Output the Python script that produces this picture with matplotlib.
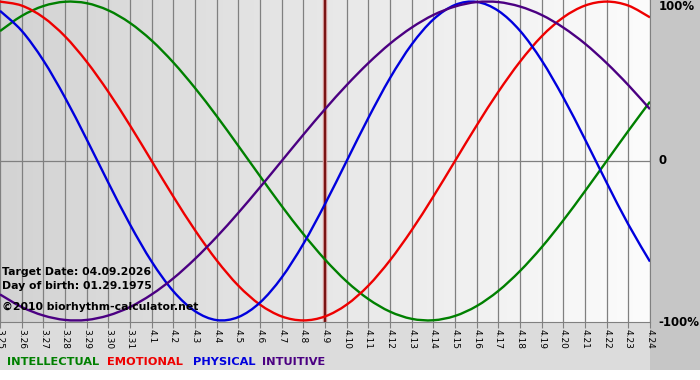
import numpy as np
import matplotlib.pyplot as plt
from matplotlib.colors import LinearSegmentedColormap
from matplotlib.patches import Rectangle, PathPatch
from matplotlib.path import Path

dates = ["3.25", "3.26", "3.27", "3.28", "3.29", "3.30", "3.31",
         "4.1", "4.2", "4.3", "4.4", "4.5", "4.6", "4.7", "4.8", "4.9",
         "4.10", "4.11", "4.12", "4.13", "4.14", "4.15", "4.16", "4.17",
         "4.18", "4.19", "4.20", "4.21", "4.22", "4.23", "4.24"]

physical = [0.942, 0.817, 0.631, 0.398, 0.136, -0.136, -0.398, -0.631, -0.817, -0.942,
            -0.998, -0.979, -0.888, -0.731, -0.520, -0.270, 0.000, 0.270, 0.520, 0.731,
            0.888, 0.979, 0.998, 0.942, 0.817, 0.631, 0.398, 0.136, -0.136, -0.398, -0.631]
emotional = [1.000, 0.975, 0.901, 0.782, 0.623, 0.434, 0.223, 0.000, -0.223, -0.434,
             -0.623, -0.782, -0.901, -0.975, -1.000, -0.975, -0.901, -0.782, -0.623, -0.434,
             -0.223, 0.000, 0.223, 0.434, 0.623, 0.782, 0.901, 0.975, 1.000, 0.975, 0.901]
intellectual = [0.815, 0.910, 0.972, 0.999, 0.990, 0.945, 0.866, 0.756, 0.618, 0.458,
                0.282, 0.095, -0.095, -0.282, -0.458, -0.618, -0.756, -0.866, -0.945, -0.990,
                -0.999, -0.972, -0.910, -0.815, -0.690, -0.541, -0.372, -0.189, 0.000, 0.189, 0.372]
intuitive = [-0.837, -0.916, -0.969, -0.997, -0.997, -0.969, -0.916, -0.837, -0.736, -0.614,
             -0.476, -0.325, -0.165, 0.000, 0.165, 0.325, 0.476, 0.614, 0.736, 0.837,
             0.916, 0.969, 0.997, 0.997, 0.969, 0.916, 0.837, 0.736, 0.614, 0.476, 0.325]

target_date = "4.9"
info_lines = ["Target Date: 04.09.2026", "Day of birth: 01.29.1975",
              "\u00a92010 biorhythm-calculator.net"]

series = [
    ("INTELLECTUAL", intellectual, "#008000"),
    ("EMOTIONAL", emotional, "#ee0000"),
    ("PHYSICAL", physical, "#0000dd"),
    ("INTUITIVE", intuitive, "#4b0082"),
]


def smooth_path(xs, ys):
    # smooth line through the daily points (cubic bezier, catmull-rom tangents)
    xs = np.asarray(xs, float)
    ys = np.asarray(ys, float)
    n = len(xs)
    verts = [(xs[0], ys[0])]
    codes = [Path.MOVETO]
    for i in range(n - 1):
        i0, i3 = max(i - 1, 0), min(i + 2, n - 1)
        c1 = (xs[i] + (xs[i + 1] - xs[i0]) / 6, ys[i] + (ys[i + 1] - ys[i0]) / 6)
        c2 = (xs[i + 1] - (xs[i3] - xs[i]) / 6, ys[i + 1] - (ys[i3] - ys[i]) / 6)
        verts += [c1, c2, (xs[i + 1], ys[i + 1])]
        codes += [Path.CURVE4] * 3
    return Path(verts, codes)


W, H = 700, 380
fig = plt.figure(figsize=(7, 3.8), dpi=100)
fig.patch.set_facecolor("white")

# gray frame (right margin + bottom strip)
fig.patches.append(Rectangle((0, 10 / H), 1, 370 / H, transform=fig.transFigure,
                             facecolor="#dcdcdc", edgecolor="none", zorder=-10))
fig.patches.append(Rectangle((650 / W, 10 / H), 50 / W, 370 / H, transform=fig.transFigure,
                             facecolor="#c6c6c6", edgecolor="none", zorder=-9))

ax = fig.add_axes([0, 58 / H, 650 / W, 322 / H])
x = np.arange(len(dates))

cmap = LinearSegmentedColormap.from_list("bg", ["#d3d3d3", "#fcfcfc"])
ax.imshow(np.linspace(0, 1, 256).reshape(1, -1), cmap=cmap, aspect="auto",
          extent=(0, len(dates) - 1, -1.01, 1.01), zorder=0)

for xi in x:
    ax.axvline(xi, color="#808080", lw=0.9, zorder=1)
ax.axhline(0, color="#808080", lw=0.9, zorder=1)

for name, vals, color in series:
    ax.add_patch(PathPatch(smooth_path(x, vals), facecolor="none",
                           edgecolor=color, lw=1.7, zorder=3))

ti = dates.index(target_date)
ax.axvline(ti, color="#d8a0a0", lw=3.2, zorder=2)
ax.axvline(ti, color="#7a1414", lw=1.6, zorder=2)

ax.set_xlim(0, len(dates) - 1)
ax.set_ylim(-1.01, 1.01)
ax.set_xticks(x)
ax.set_xticklabels(dates, rotation=270, fontsize=6.5)
ax.tick_params(axis="x", length=4, color="#808080", pad=1)
ax.set_yticks([])
for s in ["top", "left"]:
    ax.spines[s].set_visible(False)
for s in ["bottom", "right"]:
    ax.spines[s].set_color("#808080")

ax.text(1.013, 1.0, "100%", transform=ax.transAxes, ha="left", va="top",
        fontsize=8.5, fontweight="bold", clip_on=False)
ax.text(1.013, 0.5, "0", transform=ax.transAxes, ha="left", va="center",
        fontsize=8.5, fontweight="bold", clip_on=False)
ax.text(1.013, 0.0, "-100%", transform=ax.transAxes, ha="left", va="center",
        fontsize=8.5, fontweight="bold", clip_on=False)

for i, line in enumerate(info_lines):
    yy = [272, 286, 307][i]
    fig.text(2 / W, 1 - yy / H, line, ha="left", va="center",
             fontsize=7.8, fontweight="bold", color="black", zorder=5)

leg_x = [7, 107, 193, 262]
for (name, vals, color), lx in zip(series, leg_x):
    fig.text(lx / W, 1 - 362 / H, name, ha="left", va="center",
             fontsize=8.2, fontweight="bold", color=color)

fig.savefig("out.png", dpi=100)
